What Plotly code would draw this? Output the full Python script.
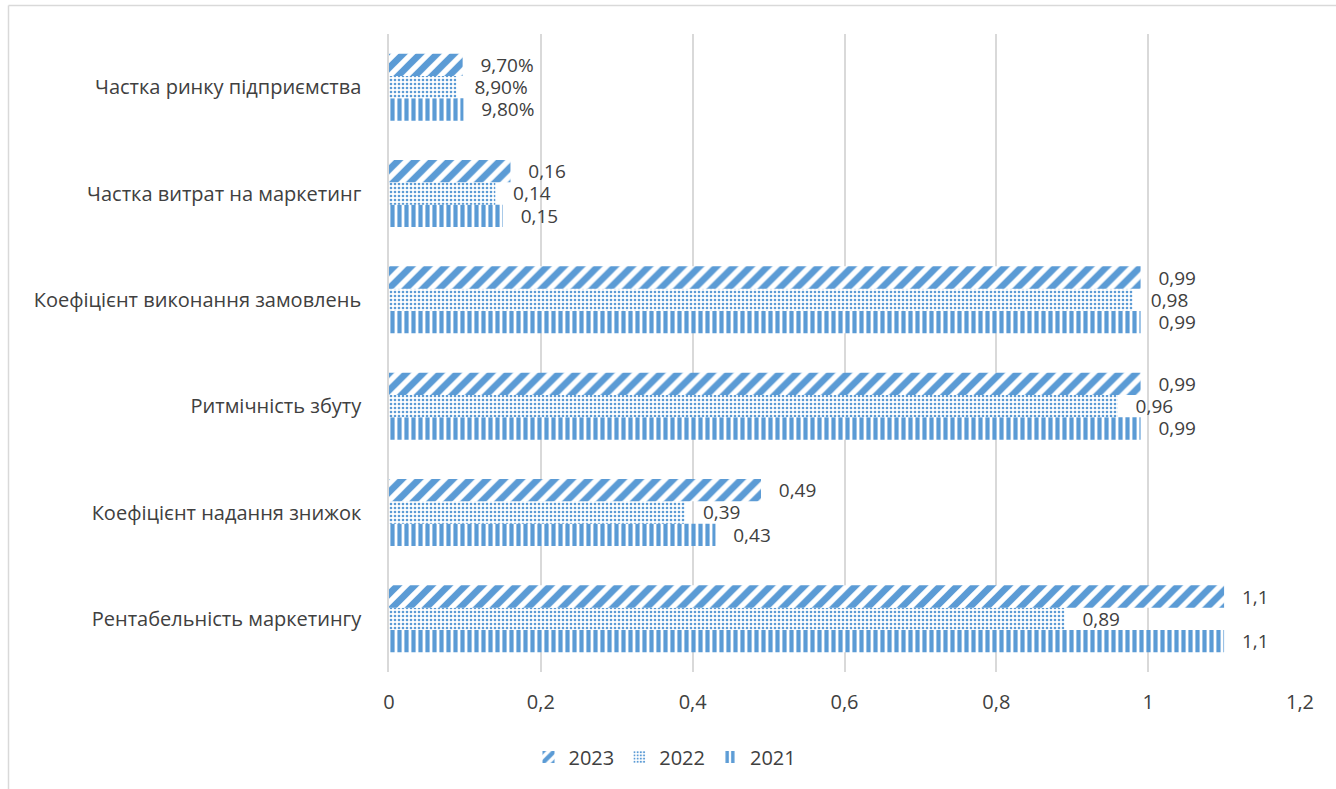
import plotly.graph_objects as go

# Marketing performance indicators, 2021-2023
categories = [
    "Рентабельність маркетингу",
    "Коефіцієнт надання знижок",
    "Ритмічність збуту",
    "Коефіцієнт виконання замовлень",
    "Частка витрат на маркетинг",
    "Частка ринку підприємства",
]
values_2021 = [1.1, 0.43, 0.99, 0.99, 0.15, 0.098]
values_2022 = [0.89, 0.39, 0.96, 0.98, 0.14, 0.089]
values_2023 = [1.1, 0.49, 0.99, 0.99, 0.16, 0.097]
percent_categories = ["Частка ринку підприємства"]

x_ticks = [0, 0.2, 0.4, 0.6, 0.8, 1.0, 1.2]
x_tick_text = ["0", "0,2", "0,4", "0,6", "0,8", "1", "1,2"]

BLUE = "#5B9BD5"
TEXT = "#404040"
GRID = "#D9D9D9"
FONT = "Open Sans"
FS = 20
LABEL_FS = 19
PAD = "\u00a0\u00a0\u00a0"


def fmt(cat, v):
    if cat in percent_categories:
        return PAD + f"{v * 100:.2f}%".replace(".", ",")
    return PAD + f"{v:g}".replace(".", ",")


series = [
    ("2021", values_2021, "|", 7, 0.6),
    ("2022", values_2022, ".", 4, 0.33),
    ("2023", values_2023, "/", 12, 0.55),
]

fig = go.Figure()
for name, vals, shape, size, solidity in series:
    fig.add_trace(go.Bar(
        name=name,
        y=categories,
        x=vals,
        orientation="h",
        text=[fmt(c, v) for c, v in zip(categories, vals)],
        textposition="outside",
        constraintext="none",
        textfont=dict(family=FONT, size=LABEL_FS, color=TEXT),
        cliponaxis=False,
        marker=dict(
            color=BLUE,
            line=dict(width=0),
            pattern=dict(shape=shape, fgcolor=BLUE, bgcolor="white",
                         fgopacity=1, size=size, solidity=solidity,
                         fillmode="replace"),
        ),
    ))

# outer frame of the chart area
L, R, T, B = 389, 36, 34, 117
W, H = 1336, 789
pw, ph = W - L - R, H - T - B
fx = lambda px: (px - L) / pw
fy = lambda py: (H - B - py) / ph

fig.update_layout(
    width=W, height=H,
    margin=dict(l=L, r=R, t=T, b=B),
    paper_bgcolor="white", plot_bgcolor="white",
    barmode="group", bargap=0.37, bargroupgap=0,
    separators=", ",
    font=dict(family=FONT, size=FS, color=TEXT),
    showlegend=True,
    legend=dict(orientation="h", traceorder="reversed",
                x=fx(665), y=fy(757), xanchor="center", yanchor="middle",
                font=dict(family=FONT, size=FS, color=TEXT),
                itemwidth=30),
    shapes=[
        dict(type="line", xref="paper", yref="paper",
             x0=fx(8.5), x1=fx(1345), y0=fy(5.5), y1=fy(5.5),
             line=dict(color=GRID, width=1.5)),
        dict(type="line", xref="paper", yref="paper",
             x0=fx(8.5), x1=fx(8.5), y0=fy(5.5), y1=fy(800),
             line=dict(color=GRID, width=1.5)),
    ],
)
fig.update_xaxes(
    range=[0, 1.2], tickvals=x_ticks, ticktext=x_tick_text,
    showgrid=True, gridcolor=GRID, gridwidth=1.5,
    zeroline=False, showline=False, ticks="",
    ticklabelstandoff=16,
    tickfont=dict(family=FONT, size=FS, color=TEXT),
)
fig.update_yaxes(
    type="category", categoryorder="array", categoryarray=categories,
    showline=True, linecolor=GRID, linewidth=1.5, ticks="",
    ticklabelstandoff=22,
    tickfont=dict(family=FONT, size=FS, color=TEXT),
)

fig.write_html("out.html")
